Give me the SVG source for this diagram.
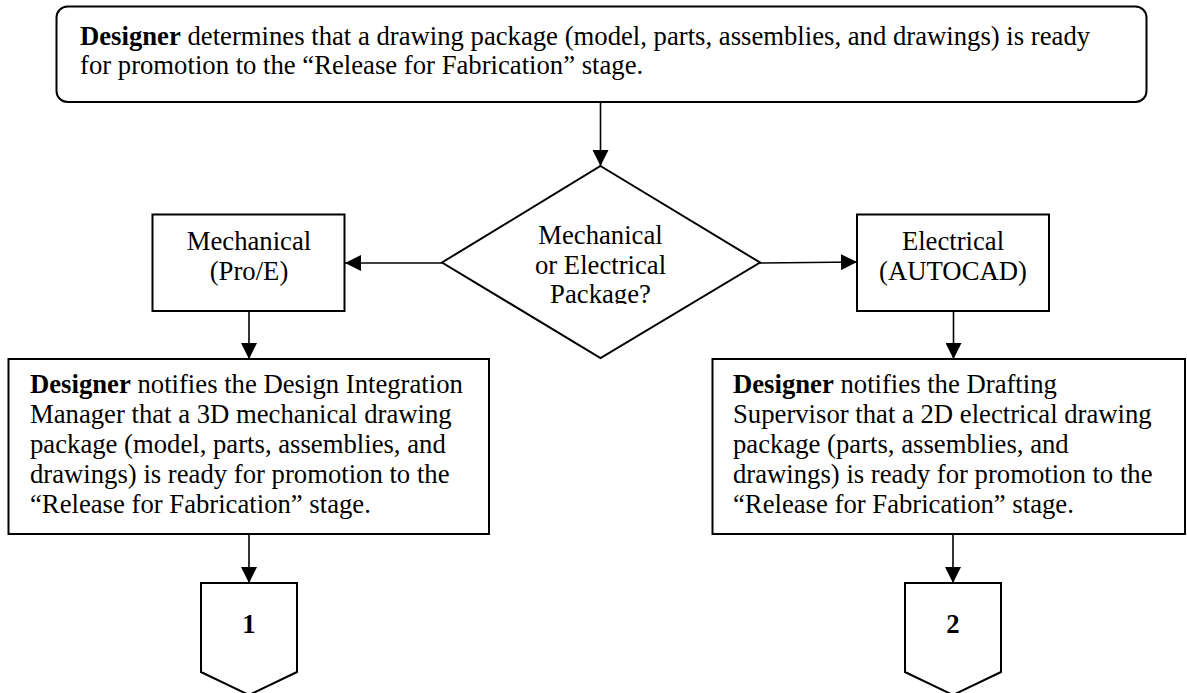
<svg xmlns="http://www.w3.org/2000/svg" width="1187" height="693" viewBox="0 0 1187 693">
<style>
text{font-family:"Liberation Serif","Times New Roman",serif;font-size:26.7px;fill:#000}
.b{font-weight:bold}
.c{text-anchor:middle}
.shape{fill:#fff;stroke:#000;stroke-width:2}
.conn{fill:none;stroke:#000;stroke-width:1.6}
</style>
<defs>
<marker id="arr" viewBox="0 0 16 16" refX="16" refY="8" markerWidth="16" markerHeight="16" markerUnits="userSpaceOnUse" orient="auto">
<path d="M0,0 L16,8 L0,16 Z" fill="#000"/>
</marker>
<clipPath id="dclip"><rect x="440" y="160" width="320" height="144"/></clipPath>
</defs>
<rect width="1187" height="693" fill="#fff"/>
<g id="connectors">
<line class="conn" x1="600.5" y1="102" x2="600.5" y2="166" marker-end="url(#arr)"/>
<line class="conn" x1="442" y1="263" x2="345" y2="263" marker-end="url(#arr)"/>
<line class="conn" x1="760" y1="263" x2="857" y2="262" marker-end="url(#arr)"/>
<line class="conn" x1="249" y1="311" x2="249" y2="359" marker-end="url(#arr)"/>
<line class="conn" x1="953.5" y1="311" x2="953.5" y2="359" marker-end="url(#arr)"/>
<line class="conn" x1="249" y1="534" x2="249" y2="583" marker-end="url(#arr)"/>
<line class="conn" x1="953" y1="534" x2="953" y2="583" marker-end="url(#arr)"/>
</g>
<g id="start">
<rect class="shape" x="56.5" y="6.5" width="1090" height="95.5" rx="11" ry="11"/>
<text x="80" y="45"><tspan class="b">Designer</tspan> determines that a drawing package (model, parts, assemblies, and drawings) is ready</text>
<text x="80" y="74">for promotion to the “Release for Fabrication” stage.</text>
</g>
<g id="decision">
<polygon class="shape" points="600.5,166 760,262.5 600.5,358 442,262.5"/>
<g clip-path="url(#dclip)">
<text class="c" x="600.5" y="244">Mechanical</text>
<text class="c" x="600.5" y="274">or Electrical</text>
<text class="c" x="600.5" y="303">Package?</text>
</g>
</g>
<g id="mechanical">
<rect class="shape" x="152.5" y="214.5" width="192" height="96.5"/>
<text class="c" x="249" y="250">Mechanical</text>
<text class="c" x="249" y="280">(Pro/E)</text>
</g>
<g id="electrical">
<rect class="shape" x="857" y="214.5" width="192" height="96.5"/>
<text class="c" x="953" y="250">Electrical</text>
<text class="c" x="953" y="280">(AUTOCAD)</text>
</g>
<g id="notify-mech">
<rect class="shape" x="8.5" y="359" width="480.5" height="175"/>
<text x="30" y="393"><tspan class="b">Designer</tspan> notifies the Design Integration</text>
<text x="30" y="423">Manager that a 3D mechanical drawing</text>
<text x="30" y="453">package (model, parts, assemblies, and</text>
<text x="30" y="483">drawings) is ready for promotion to the</text>
<text x="30" y="513">“Release for Fabrication” stage.</text>
</g>
<g id="notify-elec">
<rect class="shape" x="712.5" y="359" width="472.5" height="175"/>
<text x="733" y="393"><tspan class="b">Designer</tspan> notifies the Drafting</text>
<text x="733" y="423">Supervisor that a 2D electrical drawing</text>
<text x="733" y="453">package (parts, assemblies, and</text>
<text x="733" y="483">drawings) is ready for promotion to the</text>
<text x="733" y="513">“Release for Fabrication” stage.</text>
</g>
<g id="offpage-1">
<polygon class="shape" points="201,583 297,583 297,672 249,695 201,672"/>
<text class="c b" x="249" y="633">1</text>
</g>
<g id="offpage-2">
<polygon class="shape" points="905,583 1001,583 1001,672 953,695 905,672"/>
<text class="c b" x="953" y="633">2</text>
</g>
</svg>
